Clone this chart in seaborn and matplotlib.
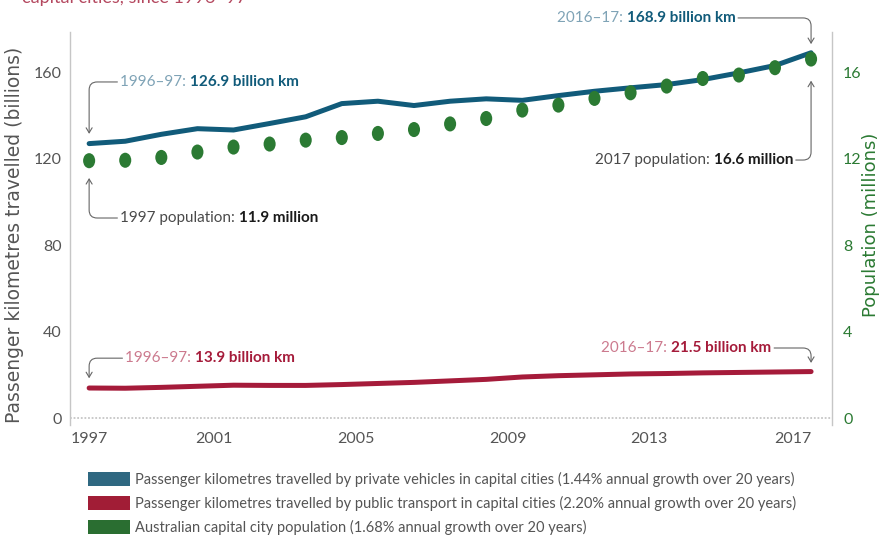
import matplotlib
matplotlib.use("Agg")
import matplotlib.pyplot as plt
import seaborn as sns
from matplotlib.patches import Patch
from matplotlib.path import Path
from matplotlib.transforms import Affine2D

# ---- data -------------------------------------------------------------
years = list(range(1997, 2018))
private_km = [126.9, 128.0, 131.2, 133.8, 133.2, 136.2, 139.3, 145.4, 146.5, 144.5,
              146.5, 147.6, 146.9, 149.1, 151.1, 152.7, 154.2, 156.5, 159.6, 163.0, 168.9]
public_km = [13.9, 13.8, 14.2, 14.7, 15.2, 15.1, 15.1, 15.5, 16.0, 16.5,
             17.2, 17.9, 19.0, 19.6, 20.0, 20.4, 20.6, 20.9, 21.1, 21.3, 21.5]
population = [11.9, 11.92, 12.05, 12.3, 12.53, 12.67, 12.85, 12.97, 13.16, 13.34,
              13.6, 13.85, 14.24, 14.47, 14.78, 15.04, 15.35, 15.7, 15.86, 16.2, 16.6]

tick_labels = ["1997", "2001", "2005", "2009", "2013", "2017"]
left_ticks = [0, 40, 80, 120, 160]
right_ticks = [0, 4, 8, 12, 16]

legend_labels = [
    "Passenger kilometres travelled by private vehicles in capital cities (1.44% annual growth over 20 years)",
    "Passenger kilometres travelled by public transport in capital cities (2.20% annual growth over 20 years)",
    "Australian capital city population (1.68% annual growth over 20 years)",
]

# ---- style ------------------------------------------------------------
sns.set_theme(style="white")
NARROW = ["Lato", "DejaVu Sans"]
plt.rcParams["font.family"] = NARROW

BLUE = "#115b7a"
BLUE_LIGHT = "#7fa3b6"
BLUE_BOX = "#2f6881"
RED = "#a51b3a"
RED_LIGHT = "#cc7a8e"
RED_BOX = "#a11d36"
GREEN = "#2b7a33"
GREEN_BOX = "#2a6e31"
GREY = "#555555"
DOT = "#c6c6c6"

tick_pos = [1997, 2000.45, 2004.4, 2008.6, 2012.5, 2016.5]

fig = plt.figure(figsize=(8.84, 5.48), dpi=100)
ax = fig.add_axes([70 / 884, 1 - 425 / 548, 762 / 884, 393 / 548])

sns.lineplot(x=years, y=private_km, ax=ax, color=BLUE, lw=3.6,
             solid_capstyle="round", zorder=3)
sns.lineplot(x=years, y=public_km, ax=ax, color=RED, lw=3.6,
             solid_capstyle="round", zorder=3)

ax.set_xlim(1996.47, 2017.58)
ax.set_ylim(-3.2, 178.5)
ax.set_yticks(left_ticks)
ax.set_xticks(tick_pos)
ax.set_xticklabels(tick_labels)
ax.axhline(0, color=DOT, lw=1.3, ls=(0, (1, 1)), zorder=1)

for side in ("top", "bottom"):
    ax.spines[side].set_visible(False)
for side in ("left", "right"):
    ax.spines[side].set_visible(True)
    ax.spines[side].set_color(DOT)
    ax.spines[side].set_linestyle((0, (1, 1)))
    ax.spines[side].set_linewidth(1.0)

ax.tick_params(axis="y", length=0, pad=6, labelsize=11.5, labelcolor=GREY)
ax.tick_params(axis="x", length=0, pad=5, labelsize=11.5, labelcolor=GREY)
ax.set_ylabel("Passenger kilometres travelled (billions)", fontsize=13.5,
              color=GREY, family="DejaVu Sans")
ax.yaxis.set_label_coords(-0.06, 0.485)

# population on the secondary axis, drawn as slightly tall dots
ax2 = ax.twinx()
dot = Path.unit_circle().transformed(Affine2D().scale(1.0, 1.25))
sns.scatterplot(x=years, y=population, ax=ax2, color=GREEN, s=118,
                marker=dot, edgecolor="none", linewidth=0, zorder=4)
ax2.set_ylim(-0.32, 17.85)
ax2.set_yticks(right_ticks)
for side in ax2.spines:
    ax2.spines[side].set_visible(False)
ax2.tick_params(axis="y", length=0, pad=8, labelsize=11.5, labelcolor=GREEN)
ax2.set_ylabel("Population (millions)", fontsize=13, color=GREEN,
               family="DejaVu Sans", rotation=90)
ax2.yaxis.set_label_coords(1.04, 0.509)

# ---- callouts ---------------------------------------------------------
FS = 11
ARROW = dict(arrowstyle="->,head_length=0.3,head_width=0.18", color="#666666",
             lw=0.8, shrinkA=2, shrinkB=0)


def callout_left(x, y, light, bold, light_color, bold_color, tip):
    t1 = ax.text(x, y, light, color=light_color, fontsize=FS, va="center",
                 ha="left", zorder=6, clip_on=False)
    ax.annotate(bold, xy=(1, 0), xycoords=t1, va="bottom", ha="left",
                color=bold_color, fontsize=FS, fontweight="bold",
                annotation_clip=False, zorder=6)
    ax.annotate("", xy=tip, xycoords="data", xytext=(0, 0.5), textcoords=t1,
                arrowprops=dict(ARROW, connectionstyle="angle,angleA=0,angleB=90,rad=8"),
                annotation_clip=False)


def callout_right(x, y, light, bold, light_color, bold_color, tip):
    t2 = ax.text(x, y, bold, color=bold_color, fontsize=FS, fontweight="bold",
                 va="center", ha="right", zorder=6, clip_on=False)
    ax.annotate(light, xy=(0, 0), xycoords=t2, va="bottom", ha="right",
                color=light_color, fontsize=FS, annotation_clip=False, zorder=6)
    ax.annotate("", xy=tip, xycoords="data", xytext=(1, 0.5), textcoords=t2,
                arrowprops=dict(ARROW, connectionstyle="angle,angleA=0,angleB=90,rad=8"),
                annotation_clip=False)


callout_left(1997.86, 155.4, "1996\u201397: ", f"{private_km[0]} billion km",
             BLUE_LIGHT, BLUE, (1997.0, private_km[0] + 4.5))
callout_right(2014.9, 185.0, "2016\u201317: ", f"{private_km[-1]} billion km",
              BLUE_LIGHT, BLUE, (2017.0, private_km[-1] + 4.0))
callout_left(1997.86, 92.5, "1997 population: ", f"{population[0]} million",
             "#4a4a4a", "#1a1a1a", (1997.0, population[0] * 10 - 8.0))
callout_right(2016.5, 119.3, "2017 population: ", f"{population[-1]} million",
              "#4a4a4a", "#1a1a1a", (2017.0, population[-1] * 10 - 10.0))
callout_left(1998.0, 27.7, "1996\u201397: ", f"{public_km[0]} billion km",
             RED_LIGHT, RED, (1997.0, public_km[0] + 4.5))
callout_right(2015.9, 32.4, "2016\u201317: ", f"{public_km[-1]} billion km",
              RED_LIGHT, RED, (2017.0, public_km[-1] + 4.0))

# heading line running off the top edge
fig.text(22 / 884, 1 - 3 / 548, "capital cities, since 1996\u201397",
         color="#b4485f", fontsize=13, va="baseline", ha="left")

# ---- legend -----------------------------------------------------------
handles = [Patch(facecolor=c, edgecolor="none") for c in (BLUE_BOX, RED_BOX, GREEN_BOX)]
fig.legend(handles=handles, labels=legend_labels, loc="upper left",
           bbox_to_anchor=(88 / 884, 1 - 472 / 548), frameon=False,
           fontsize=10.5, handlelength=2.9, handleheight=1.15,
           handletextpad=0.35, labelspacing=0.6, borderaxespad=0,
           borderpad=0, labelcolor=GREY)

fig.savefig("out.png", dpi=100)
